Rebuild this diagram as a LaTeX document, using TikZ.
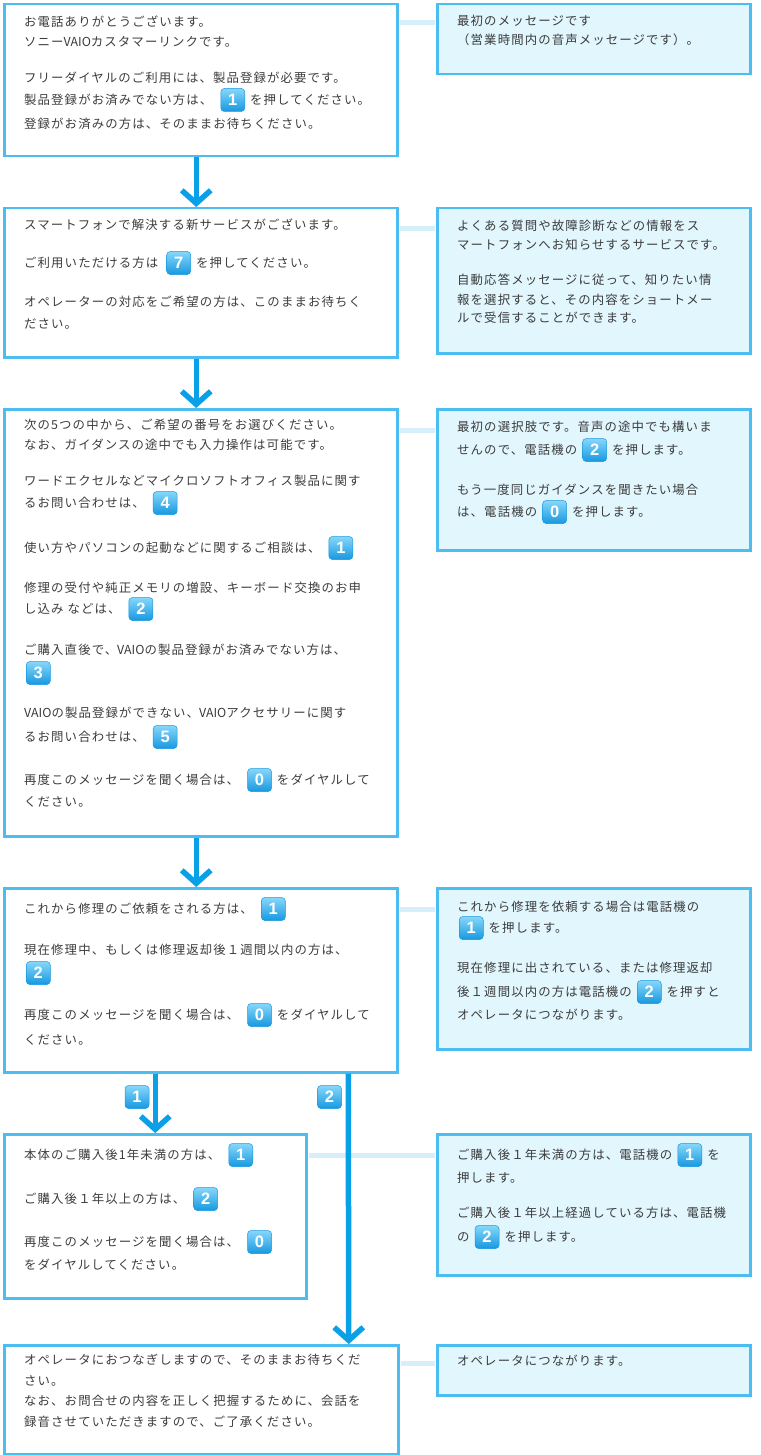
\documentclass[tikz,border=0pt]{standalone}
\usepackage{fontspec}
\newfontfamily\jp[LetterSpace=9]{Noto Sans CJK JP}
\newfontfamily\jpplain{Noto Sans CJK JP}
\newfontfamily\keyfont{Liberation Sans}
\usetikzlibrary{positioning,arrows.meta}
\definecolor{frameblue}{HTML}{4CBDF0}
\definecolor{paleblue}{HTML}{E1F6FD}
\definecolor{linkblue}{HTML}{D6EFFA}
\definecolor{flowblue}{HTML}{09A0E8}
\definecolor{keytop}{HTML}{86D7FA}
\definecolor{keybot}{HTML}{1798E0}
\definecolor{ink}{HTML}{3C3C3C}
\begin{document}
\begin{tikzpicture}[x=1pt,y=-1pt,
  box/.style={rectangle,draw=frameblue,line width=2.5pt,anchor=north west,inner sep=0},
  note/.style={box,fill=paleblue},
  txt/.style={anchor=west,inner sep=0,text height=10.8pt,text depth=1.6pt,text=ink,font=\jp\fontsize{12.4}{14}\selectfont},
  key/.style={rectangle,rounded corners=3.5pt,minimum width=24pt,minimum height=23pt,inner sep=0,draw=keybot,line width=.5pt,top color=keytop,bottom color=keybot,text=white,font=\keyfont\bfseries\fontsize{16.5}{16}\selectfont},
  link/.style={draw=linkblue,line width=5pt,shorten <=1.3pt,shorten >=1.3pt},
  flow/.style={draw=flowblue,line width=5.5pt,-{Straight Barb[length=13pt,width=29pt]}}]
\useasboundingbox (0,0) rectangle (760,1455);
\draw (3,3) node[box,minimum width=393pt,minimum height=152pt] (A) {};
\draw (24,22) node[txt] (a1) {お電話ありがとうございます。};
\draw (24,42) node[txt] (a2) {ソニー{\jpplain VAIO}カスタマーリンクです。};
\draw (24,78) node[txt] (a3) {フリーダイヤルのご利用には、製品登録が必要です。};
\draw (24,100) node[txt] (a4) {製品登録がお済みでない方は、};
\node[key,right=8pt of a4] (a4k) {1};
\node[txt,right=5pt of a4k] (a4b) {を押してください。};
\draw (24,124) node[txt] (a5) {登録がお済みの方は、そのままお待ちください。};
\draw (436,3) node[note,minimum width=313pt,minimum height=70pt] (RA) {};
\draw (457,21) node[txt] (ra1) {最初のメッセージです};
\draw (457,40) node[txt] (ra2) {（営業時間内の音声メッセージです）。};
\draw (3,207) node[box,minimum width=393pt,minimum height=149pt] (B) {};
\draw (24,225) node[txt] (b1) {スマートフォンで解決する新サービスがございます。};
\draw (24,263) node[txt] (b2) {ご利用いただける方は};
\node[key,right=8pt of b2] (b2k) {7};
\node[txt,right=5pt of b2k] (b2b) {を押してください。};
\draw (24,302) node[txt] (b3) {オペレーターの対応をご希望の方は、このままお待ちく};
\draw (24,324) node[txt] (b4) {ださい。};
\draw (436,207) node[note,minimum width=313pt,minimum height=145pt] (RB) {};
\draw (457,226) node[txt] (rb1) {よくある質問や故障診断などの情報をス};
\draw (457,245) node[txt] (rb2) {マートフォンへお知らせするサービスです。};
\draw (457,280) node[txt] (rb3) {自動応答メッセージに従って、知りたい情};
\draw (457,300) node[txt] (rb4) {報を選択すると、その内容をショートメー};
\draw (457,318) node[txt] (rb5) {ルで受信することができます。};
\draw (3,408) node[box,minimum width=393pt,minimum height=427pt] (C) {};
\draw (24,425) node[txt] (c1) {次の5つの中から、ご希望の番号をお選びください。};
\draw (24,445) node[txt] (c2) {なお、ガイダンスの途中でも入力操作は可能です。};
\draw (24,481) node[txt] (c3) {ワードエクセルなどマイクロソフトオフィス製品に関す};
\draw (24,503) node[txt] (c4) {るお問い合わせは、};
\node[key,right=8pt of c4] (c4k) {4};
\draw (24,548) node[txt] (c5) {使い方やパソコンの起動などに関するご相談は、};
\node[key,right=8pt of c5] (c5k) {1};
\draw (24,588) node[txt] (c6) {修理の受付や純正メモリの増設、キーボード交換のお申};
\draw (24,609) node[txt] (c7) {し込み などは、};
\node[key,right=8pt of c7] (c7k) {2};
\draw (24,650) node[txt] (c8) {ご購入直後で、{\jpplain VAIO}の製品登録がお済みでない方は、};
\draw (26,673) node[key,anchor=west] (c9k) {3};
\draw (24,713) node[txt] (c10) {{\jpplain VAIO}の製品登録ができない、{\jpplain VAIO}アクセサリーに関す};
\draw (24,737) node[txt] (c11) {るお問い合わせは、};
\node[key,right=8pt of c11] (c11k) {5};
\draw (24,780) node[txt] (c12) {再度このメッセージを聞く場合は、};
\node[key,right=8pt of c12] (c12k) {0};
\node[txt,right=5pt of c12k] (c12b) {をダイヤルして};
\draw (24,802) node[txt] (c13) {ください。};
\draw (436,408) node[note,minimum width=313pt,minimum height=141pt] (RC) {};
\draw (457,427) node[txt] (rc1) {最初の選択肢です。音声の途中でも構いま};
\draw (457,450) node[txt] (rc2) {せんので、電話機の};
\node[key,right=5pt of rc2] (rc2k) {2};
\node[txt,right=5pt of rc2k] (rc2b) {を押します。};
\draw (457,490) node[txt] (rc3) {もう一度同じガイダンスを聞きたい場合};
\draw (457,512) node[txt] (rc4) {は、電話機の};
\node[key,right=5pt of rc4] (rc4k) {0};
\node[txt,right=5pt of rc4k] (rc4b) {を押します。};
\draw (3,887) node[box,minimum width=393pt,minimum height=184pt] (D) {};
\draw (24,909) node[txt] (d1) {これから修理のご依頼をされる方は、};
\node[key,right=8pt of d1] (d1k) {1};
\draw (24,950) node[txt] (d2) {現在修理中、もしくは修理返却後１週間以内の方は、};
\draw (26,973) node[key,anchor=west] (d3k) {2};
\draw (24,1015) node[txt] (d4) {再度このメッセージを聞く場合は、};
\node[key,right=8pt of d4] (d4k) {0};
\node[txt,right=5pt of d4k] (d4b) {をダイヤルして};
\draw (24,1040) node[txt] (d5) {ください。};
\draw (436,887) node[note,minimum width=313pt,minimum height=161pt] (RD) {};
\draw (457,907) node[txt] (rd1) {これから修理を依頼する場合は電話機の};
\draw (459,928) node[key,anchor=west] (rd2k) {1};
\node[txt,right=5pt of rd2k] (rd2b) {を押します。};
\draw (457,968) node[txt] (rd3) {現在修理に出されている、または修理返却};
\draw (457,992) node[txt] (rd4) {後１週間以内の方は電話機の};
\node[key,right=5pt of rd4] (rd4k) {2};
\node[txt,right=5pt of rd4k] (rd4b) {を押すと};
\draw (457,1015) node[txt] (rd5) {オペレータにつながります。};
\draw (3,1133) node[box,minimum width=302pt,minimum height=164pt] (E) {};
\draw (24,1155) node[txt] (e1) {本体のご購入後1年未満の方は、};
\node[key,right=8pt of e1] (e1k) {1};
\draw (24,1199) node[txt] (e2) {ご購入後１年以上の方は、};
\node[key,right=8pt of e2] (e2k) {2};
\draw (24,1242) node[txt] (e3) {再度このメッセージを聞く場合は、};
\node[key,right=8pt of e3] (e3k) {0};
\draw (24,1265) node[txt] (e4) {をダイヤルしてください。};
\draw (436,1133) node[note,minimum width=313pt,minimum height=141pt] (RE) {};
\draw (457,1155) node[txt] (re1) {ご購入後１年未満の方は、電話機の};
\node[key,right=5pt of re1] (re1k) {1};
\node[txt,right=5pt of re1k] (re1b) {を};
\draw (457,1178) node[txt] (re2) {押します。};
\draw (457,1213) node[txt] (re3) {ご購入後１年以上経過している方は、電話機};
\draw (457,1237) node[txt] (re4) {の};
\node[key,right=5pt of re4] (re4k) {2};
\node[txt,right=5pt of re4k] (re4b) {を押します。};
\draw (3,1344) node[box,minimum width=394pt,minimum height=109pt] (F) {};
\draw (24,1360) node[txt] (f1) {オペレータにおつなぎしますので、そのままお待ちくだ};
\draw (24,1381) node[txt] (f2) {さい。};
\draw (24,1401) node[txt] (f3) {なお、お問合せの内容を正しく把握するために、会話を};
\draw (24,1422) node[txt] (f4) {録音させていただきますので、ご了承ください。};
\draw (436,1344) node[note,minimum width=313pt,minimum height=50pt] (RF) {};
\draw (457,1361) node[txt] (rf1) {オペレータにつながります。};
\draw[link] ([yshift=-20pt]A.north east) -- ([yshift=-20pt]RA.north west);
\draw[link] ([yshift=-22pt]B.north east) -- ([yshift=-22pt]RB.north west);
\draw[link] ([yshift=-22pt]C.north east) -- ([yshift=-22pt]RC.north west);
\draw[link] ([yshift=-22pt]D.north east) -- ([yshift=-22pt]RD.north west);
\draw[link] ([yshift=-22pt]E.north east) -- ([yshift=-22pt]RE.north west);
\draw[link] ([yshift=-19pt]F.north east) -- ([yshift=-19pt]RF.north west);
\draw[flow] ([xshift=-4.5pt]A.south) -- ([xshift=-4.5pt]B.north);
\draw[flow] ([xshift=-4.5pt]B.south) -- ([xshift=-4.5pt]C.north);
\draw[flow] ([xshift=-4.5pt]C.south) -- ([xshift=-4.5pt]D.north);
\draw[flow] (D.south -| E.north) -- (E.north);
\draw[flow] ([xshift=147.5pt]D.south) -- ([xshift=147.5pt]F.north);
\draw (137,1097) node[key] (n1) {1};
\draw (329.5,1097) node[key] (n2) {2};
\end{tikzpicture}
\end{document}
